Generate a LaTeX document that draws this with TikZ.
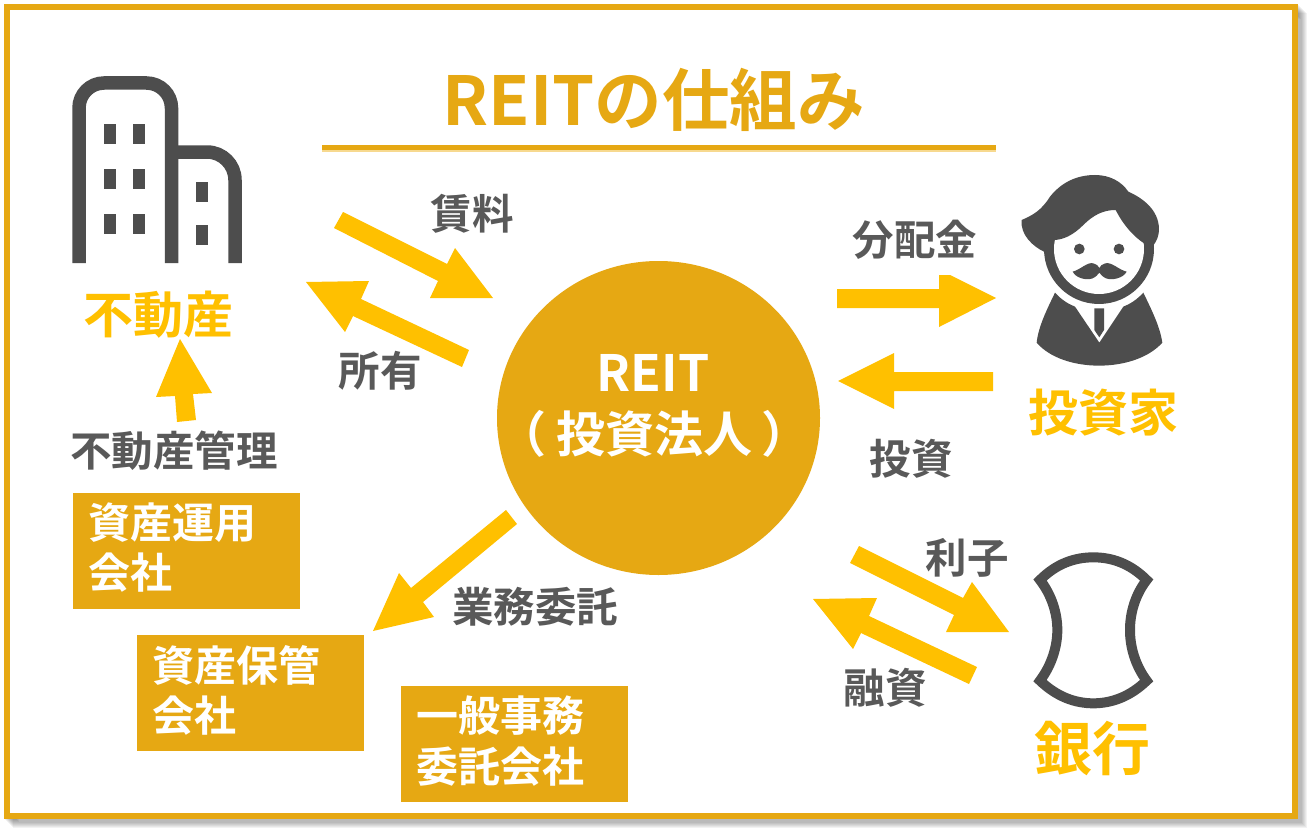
\documentclass[tikz,border=0pt]{standalone}
\usepackage{fontspec}
\setmainfont{Noto Sans CJK JP}[BoldFont={Noto Sans CJK JP Medium}]
\newfontfamily\heavy{Noto Sans CJK JP Bold}
\usetikzlibrary{shapes.geometric}
\definecolor{gold}{HTML}{E6A813}
\definecolor{amber}{HTML}{FFC000}
\definecolor{ink}{HTML}{4D4D4D}
\definecolor{labelgrey}{HTML}{595959}
\definecolor{paleline}{HTML}{F7D98F}
\newcommand{\fh}[1]{\fontsize{#1}{#1}\selectfont\heavy}
\tikzset{
  flowfill/.style={fill=amber,draw=none},
  lbl/.style={text=labelgrey,inner sep=0pt,font=\fh{41.5}},
  place/.style={text=amber,inner sep=0pt,font=\fh{50}},
  firm/.style={fill=gold,text=white,minimum width=227pt,minimum height=116pt,inner sep=0pt,anchor=north west},
  firmtext/.style={text=white,inner sep=0pt,anchor=west,font=\fh{42}},
  iconfill/.style={fill=ink,draw=none},
}
\begin{document}
\begin{tikzpicture}[x=1pt,y=-1pt]
\useasboundingbox (0,0) rectangle (1311,832);
% frame with shadow
\foreach \d in {1,2,...,9}{
  \draw[black,opacity=0.05,line width=6pt] (7+\d,7+\d) rectangle (1295+\d,816+\d);
}
\fill[white] (10,10) rectangle (1292,813);
\draw[gold,line width=6pt,line join=miter] (7,7) rectangle (1295,816);
% title
\node[text=gold,inner sep=0pt,font=\fh{67.5}] (title) at (653.5,100) {REITの仕組み};
\fill[paleline] (322,150) rectangle (996,152);
\fill[gold] (322,145) rectangle (996,150);
% centre
\node[ellipse,fill=gold,minimum width=323pt,minimum height=314pt,inner sep=0pt] (reit) at (658.5,418) {};
\node[text=white,inner sep=0pt,font=\fh{50}] (reitA) at (653,373) {REIT};
\node[text=white,inner sep=0pt,font=\fh{49}] (reitB) at (654,434) {（\kern10pt 投資法人\kern10pt ）};
% building icon
\begin{scope}[line width=13.5pt,ink,line cap=butt]
\draw[rounded corners=25pt] (79,263) -- (79,83) -- (171.5,83) -- (171.5,263);
\draw[rounded corners=28pt] (171.5,152) -- (235,152) -- (235,263);
\end{scope}
\foreach \x in {104,133}\foreach \y in {124,169,214}{\fill[ink] (\x,\y) rectangle ++(12,19.5);}
\foreach \y in {182,225}{\fill[ink] (196,\y) rectangle ++(12,19.5);}
% person icon
\begin{scope}[shift={(1000,160)},x=0.3333pt,y=-0.3333pt]
\path[iconfill] (165,398) .. controls (140,450) and (115,500) .. (110,548)
  .. controls (150,595) and (225,617) .. (297,617)
  .. controls (370,617) and (445,595) .. (487,548)
  .. controls (480,500) and (455,450) .. (430,398)
  .. controls (410,420) and (390,432) .. (370,440)
  -- (298,548) -- (225,440) .. controls (205,432) and (185,420) .. (165,398) -- cycle;
\path[iconfill] (283,445) -- (312,445) -- (312,510) -- (298,532) -- (283,510) -- cycle;
\fill[ink] (297,267) circle[radius=165];
\fill[white] (297,267) circle[radius=135];
\path[iconfill] (65,180) .. controls (100,165) and (125,150) .. (150,110)
  .. controls (190,60) and (240,45) .. (285,45)
  .. controls (330,45) and (365,65) .. (385,95)
  .. controls (430,115) and (475,150) .. (477,205)
  .. controls (477,230) and (470,245) .. (455,262)
  .. controls (415,245) and (375,205) .. (347,150)
  .. controls (310,150) and (280,165) .. (250,195)
  .. controls (220,225) and (190,240) .. (160,240)
  .. controls (150,250) and (140,262) .. (132,275)
  .. controls (100,260) and (60,225) .. (65,180) -- cycle;
\fill[ink] (238,267) circle[radius=16];
\fill[ink] (357,267) circle[radius=16];
\path[iconfill] (218,335) .. controls (240,330) and (262,305) .. (280,310)
  .. controls (290,312) and (295,318) .. (298,324)
  .. controls (301,318) and (306,312) .. (316,310)
  .. controls (335,305) and (357,330) .. (380,335)
  .. controls (370,355) and (335,362) .. (318,355)
  .. controls (308,350) and (303,345) .. (298,338)
  .. controls (293,345) and (288,350) .. (278,355)
  .. controls (260,362) and (228,355) .. (218,335) -- cycle;
\end{scope}
% bank icon
\begin{scope}[shift={(1000,530)},x=0.3333pt,y=-0.3333pt]
\draw[ink,line width=10pt,line join=miter,miter limit=10]
  (120,150) .. controls (170,100) and (225,82) .. (280,82)
  .. controls (335,82) and (390,100) .. (440,150)
  .. controls (405,195) and (390,250) .. (390,300)
  .. controls (390,350) and (405,405) .. (440,452)
  .. controls (390,500) and (335,520) .. (280,520)
  .. controls (225,520) and (170,500) .. (120,452)
  .. controls (155,405) and (172,350) .. (172,300)
  .. controls (172,250) and (155,195) .. (120,150) -- cycle;
\end{scope}
% place labels
\node[place] (estate) at (158.5,315) {不動産};
\node[place] (investor) at (1103.5,413) {投資家};
\node[place,font=\fh{58}] (bank) at (1092.5,749) {銀行};
% firm boxes
\node[firm] (boxA) at (73,493) {};
\node[firm] (boxB) at (137,635) {};
\node[firm] (boxC) at (401,686) {};
\node[firmtext] (boxA1) at (88,523) {資産運用};
\node[firmtext] (boxA2) at (88,573) {会社};
\node[firmtext] (boxB1) at (152,665) {資産保管};
\node[firmtext] (boxB2) at (152,716) {会社};
\node[firmtext] (boxC1) at (416,716) {一般事務};
\node[firmtext] (boxC2) at (416,767) {委託会社};
% labels
\node[lbl] (rent) at (472,214) {賃料};
\node[lbl] (own) at (380,371) {所有};
\node[lbl] (div) at (915,240) {分配金};
\node[lbl] (inv) at (911,459) {投資};
\node[lbl] (intr) at (967,558) {利子};
\node[lbl] (loan) at (885,688) {融資};
\node[lbl] (outs) at (535,607) {業務委託};
\node[lbl] (mgmt) at (174,451) {不動産管理};
% arrows
\fill[flowfill] (343,212) -- (447,264) -- (455,248) -- (493,298) -- (430,298) -- (438,281) -- (334,228) -- cycle;
\fill[flowfill] (306,282) -- (369,281) -- (361,299) -- (469,350) -- (462,367) -- (353,316) -- (345,332) -- cycle;
\fill[flowfill] (837,289) -- (939,289) -- (939,275) -- (950,275) -- (996,298) -- (939,327) -- (939,308) -- (837,308) -- cycle;
\fill[flowfill] (838,381) -- (894,353) -- (894,372) -- (993,372) -- (993,391) -- (894,391) -- (894,409) -- cycle;
\fill[flowfill] (859,546) -- (963,598) -- (972,582) -- (1009,632) -- (946,632) -- (954,615) -- (850,563) -- cycle;
\fill[flowfill] (813,599) -- (877,598) -- (869,616) -- (977,667) -- (969,684) -- (861,633) -- (853,649) -- cycle;
\fill[flowfill] (373,631) -- (399,573) -- (411,588) -- (506,510) -- (517,524) -- (423,602) -- (434,617) -- cycle;
\fill[flowfill] (180,339) -- (212,393) -- (193,394) -- (196,420) -- (177,422) -- (175,396) -- (156,397) -- cycle;
\end{tikzpicture}
\end{document}
